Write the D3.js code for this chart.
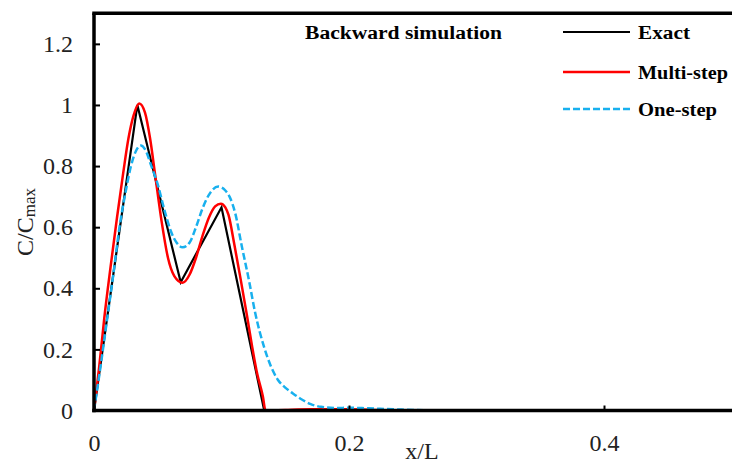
<!DOCTYPE html>
<html>
<head>
<meta charset="utf-8">
<script src="https://cdn.jsdelivr.net/npm/d3@7"></script>
<style>
  body { margin: 0; background: #fff; }
  svg { display: block; }
</style>
</head>
<body>
<div id="chart"></div>
<script>
// series (x/L , C/Cmax)
const xExact = [0, 0.034, 0.068, 0.1, 0.1335, 0.5];
const yExact = [0, 1.0, 0.42, 0.665, 0, 0];

const xMulti = [0, 0.004, 0.008, 0.013, 0.018, 0.023, 0.027, 0.031, 0.0355, 0.04, 0.044, 0.048, 0.053, 0.058, 0.063, 0.0695, 0.075, 0.08, 0.085, 0.09, 0.095, 0.0995, 0.103, 0.1055, 0.11, 0.115, 0.12, 0.124, 0.128, 0.1325, 0.1345, 0.15, 0.17, 0.2, 0.23, 0.5];
const yMulti = [0, 0.14, 0.3, 0.47, 0.63, 0.78, 0.89, 0.965, 1.005, 0.975, 0.89, 0.77, 0.62, 0.5, 0.44, 0.418, 0.445, 0.5, 0.57, 0.63, 0.668, 0.677, 0.665, 0.64, 0.545, 0.43, 0.31, 0.21, 0.12, 0.045, 0, 0.002, 0.004, 0.004, 0.001, 0];

const xOne = [0, 0.005, 0.01, 0.015, 0.02, 0.025, 0.029, 0.033, 0.0367, 0.04, 0.045, 0.05, 0.055, 0.06, 0.065, 0.0695, 0.075, 0.08, 0.085, 0.09, 0.0975, 0.103, 0.1063, 0.1108, 0.116, 0.1215, 0.1265, 0.1333, 0.1443, 0.15, 0.156, 0.163, 0.17, 0.178, 0.19, 0.2, 0.215, 0.235, 0.26, 0.5];
const yOne = [0, 0.14, 0.29, 0.44, 0.6, 0.72, 0.80, 0.85, 0.867, 0.855, 0.8, 0.74, 0.66, 0.59, 0.548, 0.534, 0.55, 0.6, 0.66, 0.705, 0.733, 0.72, 0.70, 0.645, 0.536, 0.427, 0.318, 0.209, 0.1, 0.075, 0.056, 0.036, 0.021, 0.012, 0.008, 0.009, 0.007, 0.004, 0.001, 0];

const xTicks = [0, 0.2, 0.4];
const yTicks = [0, 0.2, 0.4, 0.6, 0.8, 1, 1.2];
const seriesNames = ["Exact", "Multi-step", "One-step"];
const chartTitle = "Backward simulation";

//CONFIG
const width = 732, height = 465;
const serif = "'Liberation Serif', 'Times New Roman', serif";

const svg = d3.select("#chart")
  .append("svg")
  .attr("width", width)
  .attr("height", height);

const x = d3.scaleLinear().domain([0, 0.5]).range([94, 731.5]);
const y = d3.scaleLinear().domain([0, 1.3]).range([410.5, 13.3]);

// curves first, axes drawn on top
const line = d3.line()
  .x(d => x(d[0]))
  .y(d => y(d[1]));

const series = [
  {name: seriesNames[0], xs: xExact, ys: yExact, color: "#000000", w: 2.2, dash: null, linear: true},
  {name: seriesNames[1], xs: xMulti, ys: yMulti, color: "#ff0000", w: 2.5, dash: null},
  {name: seriesNames[2], xs: xOne, ys: yOne, color: "#18b0ee", w: 2.5, dash: "7,3"}
];

series.forEach(s => {
  const pts = s.xs.map((v, i) => [v, s.ys[i]]);
  const gen = s.linear ? line.curve(d3.curveLinear) : line.curve(d3.curveMonotoneX);
  svg.append("path")
    .attr("d", gen(pts))
    .attr("fill", "none")
    .attr("stroke", s.color)
    .attr("stroke-width", s.w)
    .attr("stroke-dasharray", s.dash);
});

// axes, ticks point inward
const yAxis = svg.append("g")
  .attr("transform", "translate(" + x(0) + ",0)")
  .call(d3.axisLeft(y).tickValues(yTicks).tickSize(-6).tickSizeOuter(0).tickPadding(21)
    .tickFormat(d => d3.format("~g")(d)));

const xAxis = svg.append("g")
  .attr("transform", "translate(0," + y(0) + ")")
  .call(d3.axisBottom(x).tickValues(xTicks).tickSize(-5).tickSizeOuter(0).tickPadding(23)
    .tickFormat(d => d3.format("~g")(d)));

[yAxis, xAxis].forEach(g => {
  g.select(".domain").attr("stroke", "#000").attr("stroke-width", 3.5);
  g.selectAll(".tick line").attr("stroke", "#000").attr("stroke-width", 2);
  g.selectAll(".tick text")
    .attr("font-family", serif)
    .attr("font-size", 24)
    .attr("fill", "#222");
});
xAxis.select(".domain").attr("d", "M" + (x(0) - 1.75) + ",0H" + width);
yAxis.select(".domain").attr("d", "M0," + (y(0) + 1.75) + "V" + y(1.3));

// top frame line
svg.append("line")
  .attr("x1", x(0) - 1.75).attr("x2", width)
  .attr("y1", y(1.3)).attr("y2", y(1.3))
  .attr("stroke", "#000").attr("stroke-width", 3.5);

// axis titles
svg.append("text")
  .attr("x", 422).attr("y", 459)
  .attr("text-anchor", "middle")
  .attr("font-family", serif).attr("font-size", 24).attr("fill", "#222")
  .text("x/L");

const yTitle = svg.append("text")
  .attr("transform", "translate(33,222) rotate(-90)")
  .attr("text-anchor", "middle")
  .attr("font-family", serif).attr("font-size", 24).attr("fill", "#222");
yTitle.append("tspan").text("C/C");
yTitle.append("tspan").attr("font-size", 17).attr("dy", 2).text("max");

// legend
svg.append("text")
  .attr("x", 305).attr("y", 39)
  .attr("font-family", serif).attr("font-size", 18).attr("font-weight", "bold")
  .attr("textLength", 197).attr("lengthAdjust", "spacingAndGlyphs")
  .text(chartTitle);

const legendY = [32, 72, 109];
const legendLen = [52, 90, 79];
series.forEach((s, i) => {
  svg.append("line")
    .attr("x1", 563).attr("x2", 630)
    .attr("y1", legendY[i]).attr("y2", legendY[i])
    .attr("stroke", s.color).attr("stroke-width", s.w)
    .attr("stroke-dasharray", s.dash);
  svg.append("text")
    .attr("x", 638).attr("y", legendY[i] + 7)
    .attr("font-family", serif).attr("font-size", 18).attr("font-weight", "bold")
    .attr("textLength", legendLen[i]).attr("lengthAdjust", "spacingAndGlyphs")
    .text(s.name);
});
</script>
</body>
</html>
